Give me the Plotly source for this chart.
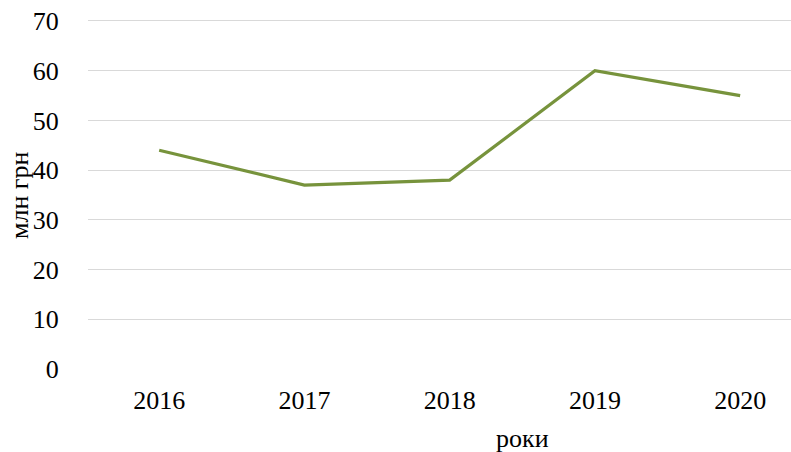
import plotly.graph_objects as go

years = ["2016", "2017", "2018", "2019", "2020"]
values = [44, 37, 38, 60, 55]
y_ticks = [0, 10, 20, 30, 40, 50, 60, 70]

FONT = "Liberation Serif, Times New Roman, serif"
FS = 26

fig = go.Figure()
fig.add_trace(go.Scatter(
    x=years, y=values, mode="lines",
    line=dict(color="#77933C", width=3.2),
    hoverinfo="skip", showlegend=False,
))

fig.update_layout(
    width=791, height=452,
    margin=dict(l=88, r=0, t=16, b=83),
    paper_bgcolor="white", plot_bgcolor="white",
    font=dict(family=FONT, size=FS, color="black"),
    xaxis=dict(
        type="category", range=[-0.49, 4.35], automargin=False,
        showgrid=False, showline=False, zeroline=False,
        ticks="outside", ticklen=8, tickcolor="rgba(0,0,0,0)",
        tickfont=dict(family=FONT, size=FS, color="black"),
    ),
    yaxis=dict(
        range=[0, 71], tickvals=y_ticks, automargin=False,
        showgrid=True, gridcolor="#d9d9d9", gridwidth=1,
        showline=False, zeroline=False,
        ticks="outside", ticklen=23, tickcolor="rgba(0,0,0,0)",
        tickfont=dict(family=FONT, size=FS, color="black"),
    ),
    annotations=[
        dict(text="роки", xref="paper", yref="paper",
             x=(522 - 88) / 703, y=-(438 - 369) / 353,
             showarrow=False, xanchor="center", yanchor="middle",
             font=dict(family=FONT, size=FS, color="black")),
        dict(text="млн грн", xref="paper", yref="paper",
             x=-(88 - 20) / 703, y=(369 - 195) / 353, textangle=-90,
             showarrow=False, xanchor="center", yanchor="middle",
             font=dict(family=FONT, size=FS, color="black")),
    ],
)

fig.write_html(
    "out.html",
    config={"displayModeBar": False},
    post_script="document.body.style.margin='0';document.body.style.overflow='hidden';",
)
